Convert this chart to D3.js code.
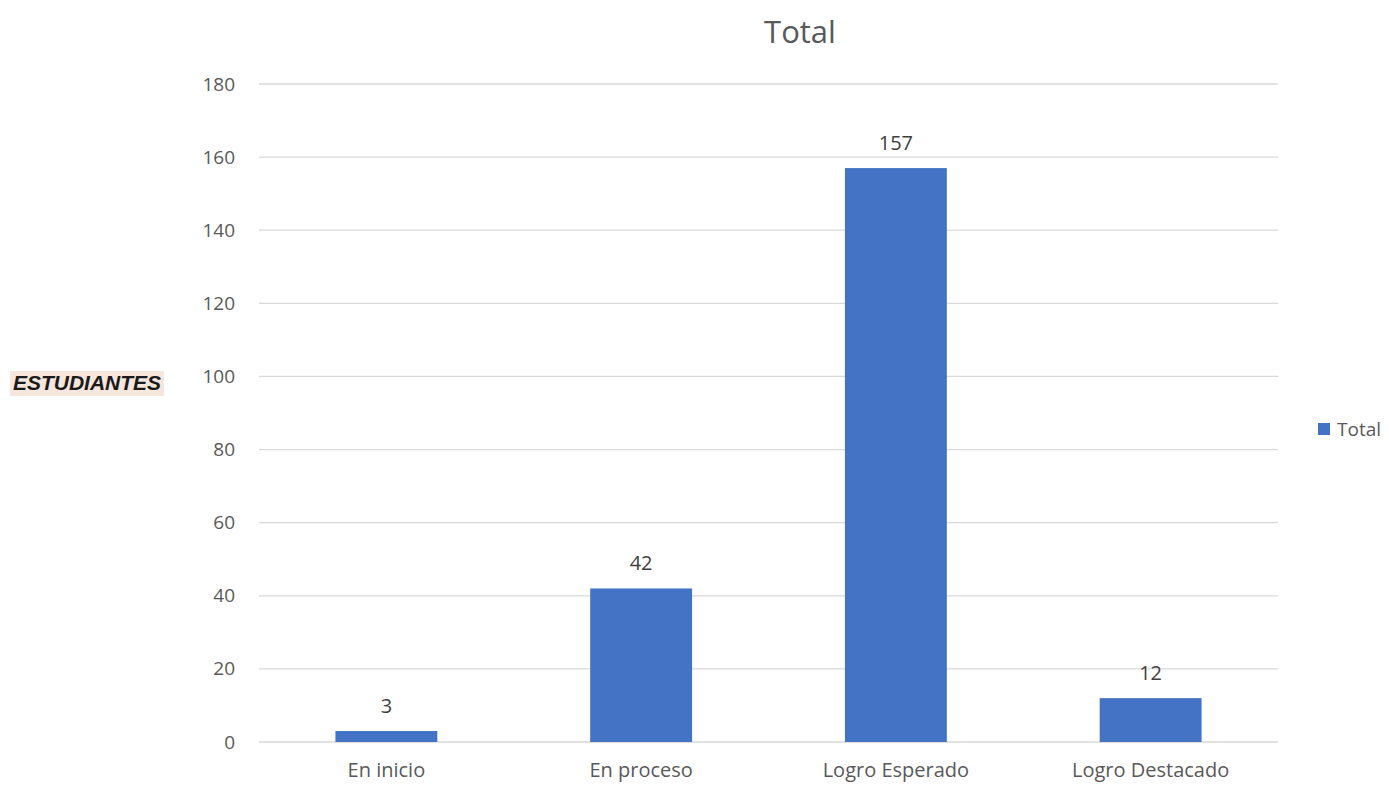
<!DOCTYPE html>
<html>
<head>
<meta charset="utf-8">
<script src="https://cdn.jsdelivr.net/npm/d3@7"></script>
<style>
  body { margin: 0; background: #fff; }
  svg { display: block; }
</style>
</head>
<body>
<svg id="chart" width="1389" height="799"></svg>
<script>
// data
const categories = ["En inicio", "En proceso", "Logro Esperado", "Logro Destacado"];
const totals = [3, 42, 157, 12];
const yTicks = [0, 20, 40, 60, 80, 100, 120, 140, 160, 180];
const seriesName = "Total";

const svg = d3.select("#chart");
const font = "'Open Sans', 'Noto Sans', sans-serif";
const textCol = "#595959";
const barCol = "#4472C4";

const plotL = 259, plotR = 1278, plotT = 84, plotB = 742;

const x = d3.scaleBand().domain(categories).range([plotL, plotR]).paddingInner(0.6).paddingOuter(0.3);
const y = d3.scaleLinear().domain([0, 180]).range([plotB, plotT]);

// gridlines
svg.append("g")
  .selectAll("line")
  .data(yTicks)
  .join("line")
  .attr("x1", plotL).attr("x2", plotR)
  .attr("y1", d => y(d)).attr("y2", d => y(d))
  .attr("stroke", "#d9d9d9")
  .attr("stroke-width", 1.3);

// y axis labels
const yAxis = svg.append("g")
  .attr("transform", "translate(" + (plotL - 24) + ",0)")
  .call(d3.axisLeft(y).tickValues(yTicks).tickSize(0).tickPadding(0));
yAxis.select(".domain").remove();
yAxis.selectAll("text")
  .attr("fill", textCol)
  .style("font-family", font)
  .style("font-size", "19px");

// x axis labels
const xAxis = svg.append("g")
  .attr("transform", "translate(0," + plotB + ")")
  .call(d3.axisBottom(x).tickSize(0).tickPadding(21));
xAxis.select(".domain").remove();
xAxis.selectAll("text")
  .attr("fill", textCol)
  .style("font-family", font)
  .style("font-size", "20px");

// bars
svg.append("g")
  .selectAll("rect")
  .data(totals)
  .join("rect")
  .attr("x", (d, i) => x(categories[i]))
  .attr("width", x.bandwidth())
  .attr("y", d => y(d))
  .attr("height", d => y(0) - y(d))
  .attr("fill", barCol);

// value labels
svg.append("g")
  .selectAll("text")
  .data(totals)
  .join("text")
  .attr("x", (d, i) => x(categories[i]) + x.bandwidth() / 2)
  .attr("y", d => y(d) - 18)
  .attr("text-anchor", "middle")
  .attr("fill", "#404040")
  .style("font-family", font)
  .style("font-size", "20px")
  .text(d => d);

// title
svg.append("text")
  .attr("x", 800).attr("y", 43)
  .attr("text-anchor", "middle")
  .attr("fill", textCol)
  .style("font-family", font)
  .style("font-size", "31px")
  .text(seriesName);

// y axis title with highlight
const yt = svg.append("g");
yt.append("rect")
  .attr("x", 10).attr("y", 371).attr("width", 154).attr("height", 25)
  .attr("fill", "#f6e6dc");
yt.append("text")
  .attr("x", 87).attr("y", 390)
  .attr("text-anchor", "middle")
  .attr("fill", "#1a1a1a")
  .style("font-family", "'Liberation Sans', Arial, sans-serif")
  .style("font-weight", "bold")
  .style("font-style", "italic")
  .style("font-size", "21px")
  .text("ESTUDIANTES");

// legend
const lg = svg.append("g").attr("transform", "translate(1318,423)");
lg.append("rect").attr("width", 12).attr("height", 12).attr("fill", barCol);
lg.append("text")
  .attr("x", 19).attr("y", 13)
  .attr("fill", textCol)
  .style("font-family", font)
  .style("font-size", "19px")
  .text(seriesName);
</script>
</body>
</html>
